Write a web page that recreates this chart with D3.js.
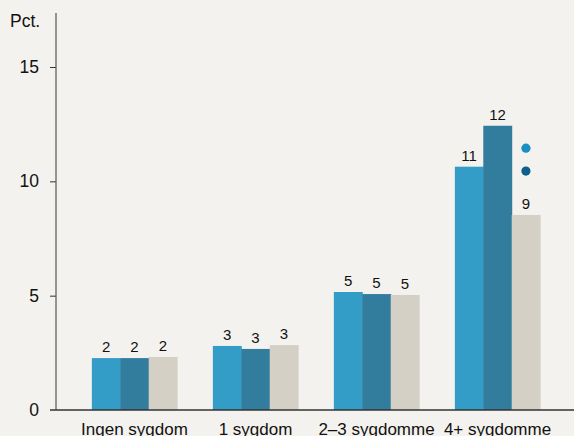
<!DOCTYPE html>
<html>
<head>
<meta charset="utf-8">
<script src="https://cdn.jsdelivr.net/npm/d3@7"></script>
<style>
  html, body { margin: 0; padding: 0; background: #f4f2ee; }
  svg { display: block; font-family: "Liberation Sans", Arial, Helvetica, sans-serif; }
</style>
</head>
<body>
<svg id="chart" width="574" height="436"></svg>
<script>
// Share with the outcome, by number of chronic diseases (pct.)
const categories = ["Ingen sygdom", "1 sygdom", "2–3 sygdomme", "4+ sygdomme"];
const seriesNames = ["A", "B", "C"];
const seriesA = [2.27, 2.80, 5.16, 10.64];
const seriesB = [2.27, 2.67, 5.07, 12.43];
const seriesC = [2.32, 2.84, 5.03, 8.53];
const yTicks = [0, 5, 10, 15];
const yLabel = "Pct.";
// two marker dots shown beside the last group
const markerValues = [11.45, 10.45];

const colors = ["#339dc7", "#327c9e", "#d4d0c6"];
const markerColors = ["#1a8fc2", "#0d5f8c"];
const font = "Liberation Sans, Arial, sans-serif";

const svg = d3.select("#chart");
const W = 574, H = 436;
svg.append("rect").attr("width", W).attr("height", H).attr("fill", "#f4f2ee");

const axisX = 56, baseY = 410, topY = 13;

const y = d3.scaleLinear().domain([0, 15]).range([baseY, 67]);
const x = d3.scaleBand().domain(categories).range([74, 558])
  .paddingInner(0.295).paddingOuter(0.1475);
const xs = d3.scaleBand().domain(seriesNames).range([0, x.bandwidth()]);

const rows = categories.map((c, i) => ({
  cat: c,
  vals: [seriesA[i], seriesB[i], seriesC[i]]
}));

// bars and value labels
const g = svg.append("g");
rows.forEach(r => {
  r.vals.forEach((v, j) => {
    g.append("rect")
      .attr("x", x(r.cat) + xs(seriesNames[j]))
      .attr("y", y(v))
      .attr("width", xs.bandwidth() + 0.5)
      .attr("height", y(0) - y(v))
      .attr("fill", colors[j]);
    g.append("text")
      .attr("x", x(r.cat) + xs(seriesNames[j]) + xs.bandwidth() / 2)
      .attr("y", y(v) - 6)
      .attr("text-anchor", "middle")
      .attr("font-size", 15)
      .attr("font-family", font)
      .attr("fill", "#111")
      .text(d3.format(".0f")(v));
  });
});

// markers next to last group
const last = categories[categories.length - 1];
markerValues.forEach((v, i) => {
  svg.append("circle")
    .attr("cx", x(last) + xs("C") + xs.bandwidth() / 2)
    .attr("cy", y(v))
    .attr("r", 4.6)
    .attr("fill", markerColors[i]);
});

// y axis
const yAxis = d3.axisLeft(y).tickValues(yTicks).tickSize(6).tickPadding(11);
const ya = svg.append("g").attr("transform", `translate(${axisX},0)`).call(yAxis);
ya.select(".domain").remove();
ya.selectAll(".tick line").attr("stroke", "#333");
ya.selectAll(".tick text").attr("font-size", 17.5).attr("fill", "#111")
  .attr("font-family", font);
ya.selectAll(".tick").filter(d => d === 0).select("line").remove();

svg.append("line").attr("x1", axisX).attr("x2", axisX)
  .attr("y1", topY).attr("y2", baseY)
  .attr("stroke", "#555").attr("stroke-width", 1.2);

// baseline
svg.append("line").attr("x1", 50).attr("x2", W)
  .attr("y1", baseY).attr("y2", baseY)
  .attr("stroke", "#333").attr("stroke-width", 1.3);

// x category labels
const xAxis = d3.axisBottom(x).tickSize(0).tickPadding(0);
const xa = svg.append("g").attr("transform", `translate(0,${baseY})`).call(xAxis);
xa.select(".domain").remove();
xa.selectAll(".tick text").attr("font-size", 17).attr("fill", "#111")
  .attr("font-family", font).attr("dy", null).attr("y", 25);

// unit label
svg.append("text").attr("x", 10).attr("y", 27)
  .attr("font-size", 17.5).attr("font-family", font)
  .attr("fill", "#111").text(yLabel);
</script>
</body>
</html>
